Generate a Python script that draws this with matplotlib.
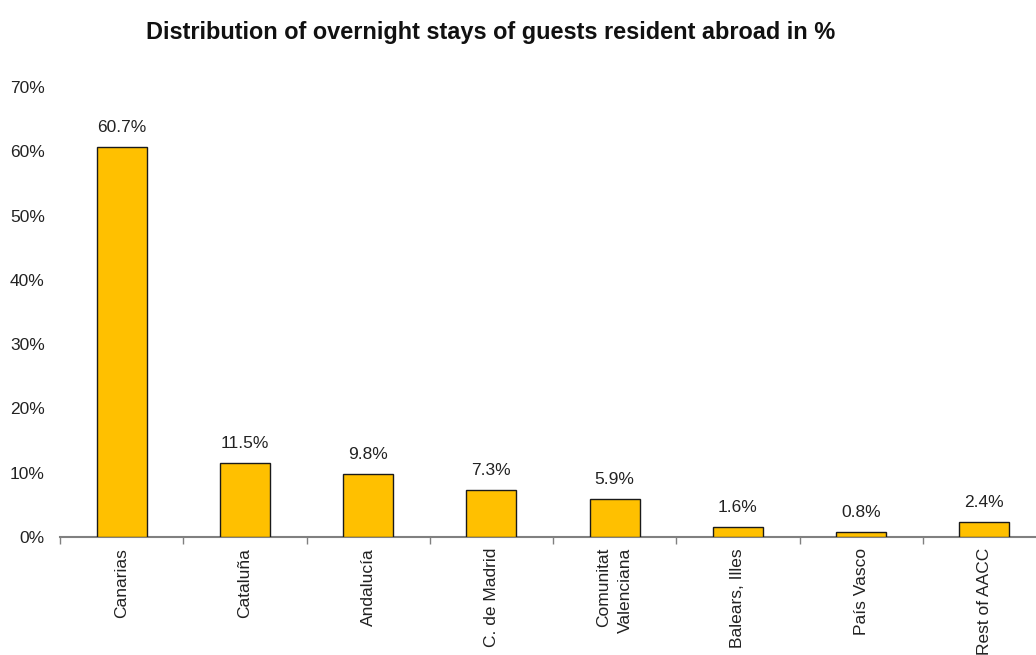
import matplotlib
matplotlib.use("Agg")
import matplotlib.pyplot as plt
import numpy as np

categories = ["Canarias", "Cataluña", "Andalucía", "C. de Madrid",
              "Comunitat\nValenciana", "Balears, Illes", "País Vasco", "Rest of AACC"]
values = [60.7, 11.5, 9.8, 7.3, 5.9, 1.6, 0.8, 2.4]
yticks = [0, 10, 20, 30, 40, 50, 60, 70]
title = "Distribution of overnight stays of guests resident abroad in %"

plt.rcParams['font.family'] = ['Liberation Sans', 'DejaVu Sans']

W, H = 1036, 655
fig = plt.figure(figsize=(W/100, H/100), dpi=100)
left, right = 60, 1046
bottom, top = 537, 87
ax = fig.add_axes([left/W, (H-bottom)/H, (right-left)/W, (bottom-top)/H])

fs = 12.5
x = np.arange(len(categories))
ax.bar(x, values, width=0.405, color="#FFC000", edgecolor="#1a1a1a", linewidth=1.0, zorder=3)
for xi, v in zip(x, values):
    ax.annotate(f"{v:.1f}%", (xi, v), xytext=(0, 14), textcoords="offset points",
                ha="center", va="center", fontsize=fs, color="#222222")

ax.set_xlim(-0.5, len(categories) - 0.5)
ax.set_ylim(0, 70)
ax.set_yticks(yticks)
ax.set_yticklabels([f"{t}%" for t in yticks], fontsize=fs, color="#222222")
ax.tick_params(axis='y', length=0, pad=11)

ax.set_xticks(x)
labels = ax.set_xticklabels(categories, rotation=90, fontsize=fs, color="#222222", va="top",
                            ha="center", multialignment="right")
for lab in labels:
    lab.set_linespacing(1.55)
ax.tick_params(axis='x', which='major', length=0, pad=8)
ax.set_xticks(np.arange(len(categories) + 1) - 0.5, minor=True)
ax.tick_params(axis='x', which='minor', length=5, width=1, color="#808080", direction="out")

for s in ["top", "right", "left"]:
    ax.spines[s].set_visible(False)
ax.spines["bottom"].set_color("#808080")
ax.spines["bottom"].set_linewidth(1.5)

fig.text(491/W, 1 - 32/H, title, ha="center", va="center", fontsize=16.9, fontweight="bold",
         color="#111111")

fig.savefig("out.png", dpi=100)
